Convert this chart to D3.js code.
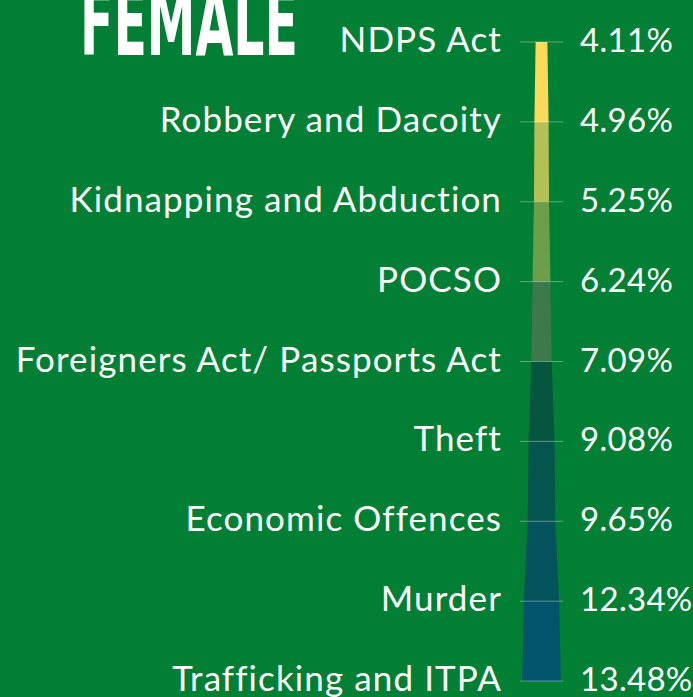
<!DOCTYPE html>
<html>
<head>
<meta charset="utf-8">
<script src="https://cdn.jsdelivr.net/npm/d3@7"></script>
<style>
  html, body { margin: 0; padding: 0; background: #007f35; overflow: hidden; }
  svg { display: block; }
  text { font-family: Lato, "Open Sans", sans-serif; fill: #fff; }
</style>
</head>
<body>
<svg id="funnel" width="693" height="697"></svg>
<script>
// crime categories, top to bottom
var categories = ["NDPS Act", "Robbery and Dacoity", "Kidnapping and Abduction", "POCSO",
  "Foreigners Act/ Passports Act", "Theft", "Economic Offences", "Murder", "Trafficking and ITPA"];
var values = [4.11, 4.96, 5.25, 6.24, 7.09, 9.08, 9.65, 12.34, 13.48];
var valueLabels = ["4.11%", "4.96%", "5.25%", "6.24%", "7.09%", "9.08%", "9.65%", "12.34%", "13.48%"];
// one colour per band between two categories
var bandColors = ["#fdd95b", "#b4c056", "#6e9e4b", "#3d7a4b", "#05553f", "#03554d", "#04525b", "#03546d"];

var svg = d3.select("#funnel"),
    width = +svg.attr("width");

var cx = 541.5;

var y = d3.scalePoint()
  .domain(categories)
  .range([42, 681]);

var w = d3.scaleLinear()
  .domain([0, d3.max(values)])
  .range([0, 38.6]);

var rows = categories.map(function(c, i) { return {cat: c, value: values[i], label: valueLabels[i]}; });

var area = d3.area()
  .y(function(d) { return y(d.cat); })
  .x0(function(d) { return cx - w(d.value) / 2; })
  .x1(function(d) { return cx + w(d.value) / 2; });

// funnel bands
svg.selectAll(".band")
  .data(d3.range(rows.length - 1))
  .enter().append("path")
  .attr("class", "band")
  .attr("d", function(i) { return area([rows[i], rows[i + 1]]); })
  .attr("fill", function(i) { return bandColors[i]; });

// tick marks across the funnel
svg.selectAll(".tick")
  .data(rows)
  .enter().append("line")
  .attr("class", "tick")
  .attr("x1", 520).attr("x2", 563)
  .attr("y1", function(d) { return y(d.cat); })
  .attr("y2", function(d) { return y(d.cat); })
  .attr("stroke", "rgba(255,255,255,0.35)")
  .attr("stroke-width", 1);

// category names
svg.selectAll(".cat")
  .data(rows)
  .enter().append("text")
  .attr("class", "cat")
  .attr("x", 502)
  .attr("y", function(d) { return y(d.cat) + 10; })
  .attr("text-anchor", "end")
  .style("font-size", "35px")
  .style("letter-spacing", "1.1px")
  .text(function(d) { return d.cat; });

// percentages
svg.selectAll(".pct")
  .data(rows)
  .enter().append("text")
  .attr("class", "pct")
  .attr("x", 580)
  .attr("y", function(d) { return y(d.cat) + 10; })
  .style("font-size", "33px")
  .style("letter-spacing", "0.3px")
  .text(function(d) { return d.label; });

// title, cut off at the top; squeezed to a condensed look
var title = svg.append("text")
  .attr("x", 0)
  .attr("y", 0)
  .style("font-family", "'Liberation Sans Narrow', 'DejaVu Sans Condensed', sans-serif")
  .style("font-weight", "bold")
  .style("font-size", "92px")
  .text("FEMALE");
var sx = 218 / title.node().getComputedTextLength();
title.attr("transform", "translate(80,55) scale(" + sx + ",1)");
</script>
</body>
</html>
